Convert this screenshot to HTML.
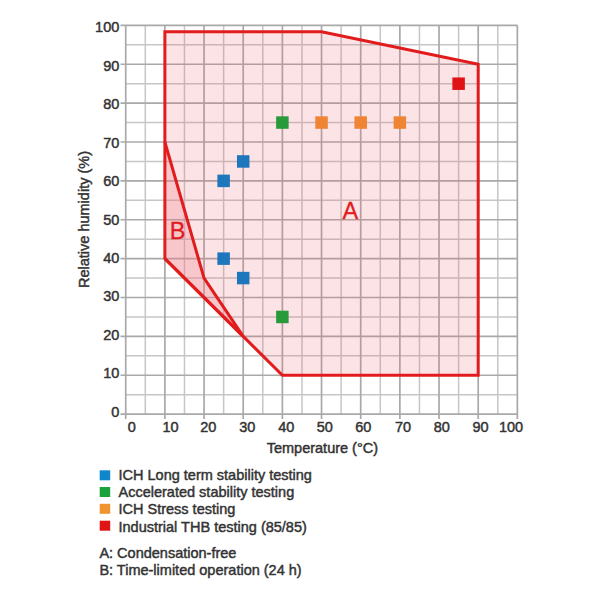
<!DOCTYPE html>
<html><head><meta charset="utf-8"><style>
html,body{margin:0;padding:0;background:#fff;width:600px;height:600px;overflow:hidden}
svg{display:block}
text{font-family:"Liberation Sans",sans-serif;fill:#333333;stroke:#333333;stroke-width:0.45px}
</style></head><body>
<svg width="600" height="600" viewBox="0 0 600 600">
<rect width="600" height="600" fill="#fff"/>
<line x1="145.3" y1="25.37" x2="145.3" y2="414.15" stroke="#c6c6c6" stroke-width="1.5"/>
<line x1="125.72" y1="394.71" x2="517.36" y2="394.71" stroke="#c6c6c6" stroke-width="1.5"/>
<line x1="184.47" y1="25.37" x2="184.47" y2="414.15" stroke="#c6c6c6" stroke-width="1.5"/>
<line x1="125.72" y1="355.83" x2="517.36" y2="355.83" stroke="#c6c6c6" stroke-width="1.5"/>
<line x1="223.63" y1="25.37" x2="223.63" y2="414.15" stroke="#c6c6c6" stroke-width="1.5"/>
<line x1="125.72" y1="316.95" x2="517.36" y2="316.95" stroke="#c6c6c6" stroke-width="1.5"/>
<line x1="262.79" y1="25.37" x2="262.79" y2="414.15" stroke="#c6c6c6" stroke-width="1.5"/>
<line x1="125.72" y1="278.08" x2="517.36" y2="278.08" stroke="#c6c6c6" stroke-width="1.5"/>
<line x1="301.96" y1="25.37" x2="301.96" y2="414.15" stroke="#c6c6c6" stroke-width="1.5"/>
<line x1="125.72" y1="239.2" x2="517.36" y2="239.2" stroke="#c6c6c6" stroke-width="1.5"/>
<line x1="341.12" y1="25.37" x2="341.12" y2="414.15" stroke="#c6c6c6" stroke-width="1.5"/>
<line x1="125.72" y1="200.32" x2="517.36" y2="200.32" stroke="#c6c6c6" stroke-width="1.5"/>
<line x1="380.29" y1="25.37" x2="380.29" y2="414.15" stroke="#c6c6c6" stroke-width="1.5"/>
<line x1="125.72" y1="161.44" x2="517.36" y2="161.44" stroke="#c6c6c6" stroke-width="1.5"/>
<line x1="419.45" y1="25.37" x2="419.45" y2="414.15" stroke="#c6c6c6" stroke-width="1.5"/>
<line x1="125.72" y1="122.56" x2="517.36" y2="122.56" stroke="#c6c6c6" stroke-width="1.5"/>
<line x1="458.61" y1="25.37" x2="458.61" y2="414.15" stroke="#c6c6c6" stroke-width="1.5"/>
<line x1="125.72" y1="83.69" x2="517.36" y2="83.69" stroke="#c6c6c6" stroke-width="1.5"/>
<line x1="497.78" y1="25.37" x2="497.78" y2="414.15" stroke="#c6c6c6" stroke-width="1.5"/>
<line x1="125.72" y1="44.81" x2="517.36" y2="44.81" stroke="#c6c6c6" stroke-width="1.5"/>
<line x1="125.72" y1="25.37" x2="125.72" y2="419" stroke="#a9a9a9" stroke-width="1.7"/>
<line x1="120.5" y1="414.15" x2="517.36" y2="414.15" stroke="#a9a9a9" stroke-width="1.7"/>
<line x1="164.88" y1="25.37" x2="164.88" y2="419" stroke="#a9a9a9" stroke-width="1.7"/>
<line x1="120.5" y1="375.27" x2="517.36" y2="375.27" stroke="#a9a9a9" stroke-width="1.7"/>
<line x1="204.05" y1="25.37" x2="204.05" y2="419" stroke="#a9a9a9" stroke-width="1.7"/>
<line x1="120.5" y1="336.39" x2="517.36" y2="336.39" stroke="#a9a9a9" stroke-width="1.7"/>
<line x1="243.21" y1="25.37" x2="243.21" y2="419" stroke="#a9a9a9" stroke-width="1.7"/>
<line x1="120.5" y1="297.52" x2="517.36" y2="297.52" stroke="#a9a9a9" stroke-width="1.7"/>
<line x1="282.38" y1="25.37" x2="282.38" y2="419" stroke="#a9a9a9" stroke-width="1.7"/>
<line x1="120.5" y1="258.64" x2="517.36" y2="258.64" stroke="#a9a9a9" stroke-width="1.7"/>
<line x1="321.54" y1="25.37" x2="321.54" y2="419" stroke="#a9a9a9" stroke-width="1.7"/>
<line x1="120.5" y1="219.76" x2="517.36" y2="219.76" stroke="#a9a9a9" stroke-width="1.7"/>
<line x1="360.7" y1="25.37" x2="360.7" y2="419" stroke="#a9a9a9" stroke-width="1.7"/>
<line x1="120.5" y1="180.88" x2="517.36" y2="180.88" stroke="#a9a9a9" stroke-width="1.7"/>
<line x1="399.87" y1="25.37" x2="399.87" y2="419" stroke="#a9a9a9" stroke-width="1.7"/>
<line x1="120.5" y1="142.0" x2="517.36" y2="142.0" stroke="#a9a9a9" stroke-width="1.7"/>
<line x1="439.03" y1="25.37" x2="439.03" y2="419" stroke="#a9a9a9" stroke-width="1.7"/>
<line x1="120.5" y1="103.13" x2="517.36" y2="103.13" stroke="#a9a9a9" stroke-width="1.7"/>
<line x1="478.2" y1="25.37" x2="478.2" y2="419" stroke="#a9a9a9" stroke-width="1.7"/>
<line x1="120.5" y1="64.25" x2="517.36" y2="64.25" stroke="#a9a9a9" stroke-width="1.7"/>
<line x1="517.36" y1="25.37" x2="517.36" y2="419" stroke="#a9a9a9" stroke-width="1.7"/>
<line x1="120.5" y1="25.37" x2="517.36" y2="25.37" stroke="#a9a9a9" stroke-width="1.7"/>
<polygon points="164.88,31.78 321.54,31.78 478.2,64.25 478.2,375.27 282.38,375.27 243.21,336.39 164.88,258.64" fill="rgb(238,99,116)" fill-opacity="0.18" stroke="none"/>
<polygon points="164.88,142.0 204.05,278.08 243.21,336.39 164.88,258.64" fill="rgb(235,137,147)" fill-opacity="0.3" stroke="none"/>
<polygon points="164.88,31.78 321.54,31.78 478.2,64.25 478.2,375.27 282.38,375.27 243.21,336.39 164.88,258.64" fill="none" stroke="#e21c1c" stroke-width="3" stroke-linejoin="miter"/>
<polyline points="164.88,142.0 204.05,278.08 243.21,336.39 164.88,258.64" fill="none" stroke="#e21c1c" stroke-width="3" stroke-linejoin="miter"/>
<rect x="217.38" y="174.63" width="12.5" height="12.5" fill="#1e76bd"/><rect x="236.96" y="155.19" width="12.5" height="12.5" fill="#1e76bd"/><rect x="217.38" y="252.39" width="12.5" height="12.5" fill="#1e76bd"/><rect x="236.96" y="271.83" width="12.5" height="12.5" fill="#1e76bd"/><rect x="276.13" y="116.31" width="12.5" height="12.5" fill="#279a3c"/><rect x="276.13" y="310.7" width="12.5" height="12.5" fill="#279a3c"/><rect x="315.29" y="116.31" width="12.5" height="12.5" fill="#ee8434"/><rect x="354.45" y="116.31" width="12.5" height="12.5" fill="#ee8434"/><rect x="393.62" y="116.31" width="12.5" height="12.5" fill="#ee8434"/><rect x="452.36" y="77.44" width="12.5" height="12.5" fill="#e01216"/>
<g font-size="14.5">
<text x="131.7" y="432.4" text-anchor="middle">0</text><text x="170.6" y="432.4" text-anchor="middle">10</text><text x="208.3" y="432.4" text-anchor="middle">20</text><text x="247.3" y="432.4" text-anchor="middle">30</text><text x="286.2" y="432.4" text-anchor="middle">40</text><text x="324.7" y="432.4" text-anchor="middle">50</text><text x="363.3" y="432.4" text-anchor="middle">60</text><text x="403" y="432.4" text-anchor="middle">70</text><text x="441.7" y="432.4" text-anchor="middle">80</text><text x="480.5" y="432.4" text-anchor="middle">90</text><text x="511" y="432.4" text-anchor="middle">100</text>
<text x="119.3" y="416.9" text-anchor="end">0</text><text x="119.3" y="378.42" text-anchor="end">10</text><text x="119.3" y="339.94" text-anchor="end">20</text><text x="119.3" y="301.46" text-anchor="end">30</text><text x="119.3" y="262.98" text-anchor="end">40</text><text x="119.3" y="224.5" text-anchor="end">50</text><text x="119.3" y="186.02" text-anchor="end">60</text><text x="119.3" y="147.54" text-anchor="end">70</text><text x="119.3" y="109.06" text-anchor="end">80</text><text x="119.3" y="70.58" text-anchor="end">90</text><text x="119.3" y="32.1" text-anchor="end">100</text>
</g>
<text x="266.7" y="453.3" font-size="14.5">Temperature (°C)</text>
<text transform="translate(89.3,288) rotate(-90)" font-size="14.5">Relative humidity (%)</text>
<text x="350.3" y="219.3" font-size="23.5" text-anchor="middle" style="fill:#e21c1c;stroke:#e21c1c;stroke-width:0.3px">A</text>
<text x="177.5" y="239.3" font-size="23.5" text-anchor="middle" style="fill:#e21c1c;stroke:#e21c1c;stroke-width:0.3px">B</text>
<rect x="99.7" y="470.3" width="10.5" height="10" fill="#1087cd"/>
<rect x="99.7" y="487" width="10.5" height="10" fill="#1aa23c"/>
<rect x="99.7" y="503.8" width="10.5" height="10" fill="#f29332"/>
<rect x="99.7" y="520.7" width="10.5" height="10" fill="#e01414"/>
<g font-size="14.5">
<text x="118.5" y="479.8">ICH Long term stability testing</text>
<text x="118.5" y="497">Accelerated stability testing</text>
<text x="118.5" y="514">ICH Stress testing</text>
<text x="118.5" y="531.9">Industrial THB testing (85/85)</text>
<text x="99.4" y="557.5">A: Condensation-free</text>
<text x="99.4" y="574.5">B: Time-limited operation (24 h)</text>
</g>
</svg>
</body></html>
